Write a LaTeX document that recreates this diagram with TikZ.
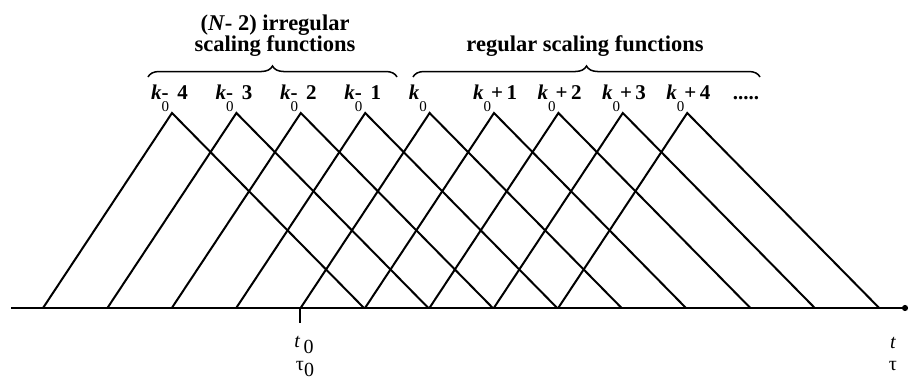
\documentclass[tikz,border=0pt]{standalone}
\usepackage{fontspec}
\setmainfont{Liberation Serif}
\usetikzlibrary{arrows.meta, decorations.pathreplacing, positioning}

\newcommand\ksub{\raisebox{-0.6em}{\mdseries\fontsize{15}{15}\selectfont 0}}

\begin{document}
\begin{tikzpicture}[x=1pt, y=-1pt,
    hat/.style={line width=2pt, line join=miter},
    axisline/.style={line width=2pt, -{Circle[length=6pt]}},
    ticks/.style={line width=2pt},
    klabel/.style={anchor=base west, inner sep=0pt,
                   font=\fontsize{21}{21}\selectfont\bfseries},
    ttl/.style={align=center, inner sep=0pt,
                font=\fontsize{22.5}{21}\selectfont\bfseries},
    brc/.style={decorate, decoration={brace, amplitude=11pt}, line width=1.5pt},
    tlabel/.style={inner sep=0pt, font=\fontsize{20}{20}\selectfont}
  ]
  \useasboundingbox (0,0) rectangle (912,383);

  \coordinate (a0) at (11,308);
  \coordinate (a1) at (908,308);
  \draw[axisline] (a0) -- (a1);

  \foreach \i/\txt in {0/{\textit{k}\rlap{\ksub}- \,4}, 1/{\textit{k}\rlap{\ksub}- \,3},
                       2/{\textit{k}\rlap{\ksub}- \,2}, 3/{\textit{k}\rlap{\ksub}- \,1},
                       4/{\textit{k}\ksub}, 5/{\textit{k}\ksub+\,1},
                       6/{\textit{k}\ksub+\,2}, 7/{\textit{k}\ksub+\,3},
                       8/{\textit{k}\ksub+\,4}} {
    \coordinate (l\i) at ({43+64.4*\i},308);
    \coordinate (p\i) at ({172+64.4*\i},113);
    \coordinate (r\i) at ({364+64.4*\i},308);
    \draw[hat] (l\i) -- (p\i) -- (r\i);
    \node[klabel] (k\i) at ({151+64.4*\i},99) {\txt};
  }
  \node[klabel, anchor=base] (dots) at (746,99) {.....};

  \coordinate (bi0) at (148,77);
  \coordinate (bi1) at (397,77);
  \coordinate (br0) at (413,77);
  \coordinate (br1) at (760,77);
  \draw[brc] (bi0) -- (bi1);
  \draw[brc] (br0) -- (br1);

  \node[ttl] (irr) at (275,36) {(\textit{N}- 2) irregular\\scaling functions};
  \node[ttl] (reg) at (585,46) {regular scaling functions};

  \coordinate (t0) at (300,308);
  \coordinate (t1) at (300,323);
  \draw[ticks] (t0) -- (t1);
  \node[tlabel] (tz) at (304,345) {\textit{t}\,\raisebox{-0.3em}{0}};
  \node[tlabel] (tauz) at (305,369) {τ\raisebox{-0.3em}{0}};
  \node[tlabel] (tt) at (893,343) {\textit{t}};
  \node[tlabel] (tau) at (893,366) {τ};
\end{tikzpicture}
\end{document}
